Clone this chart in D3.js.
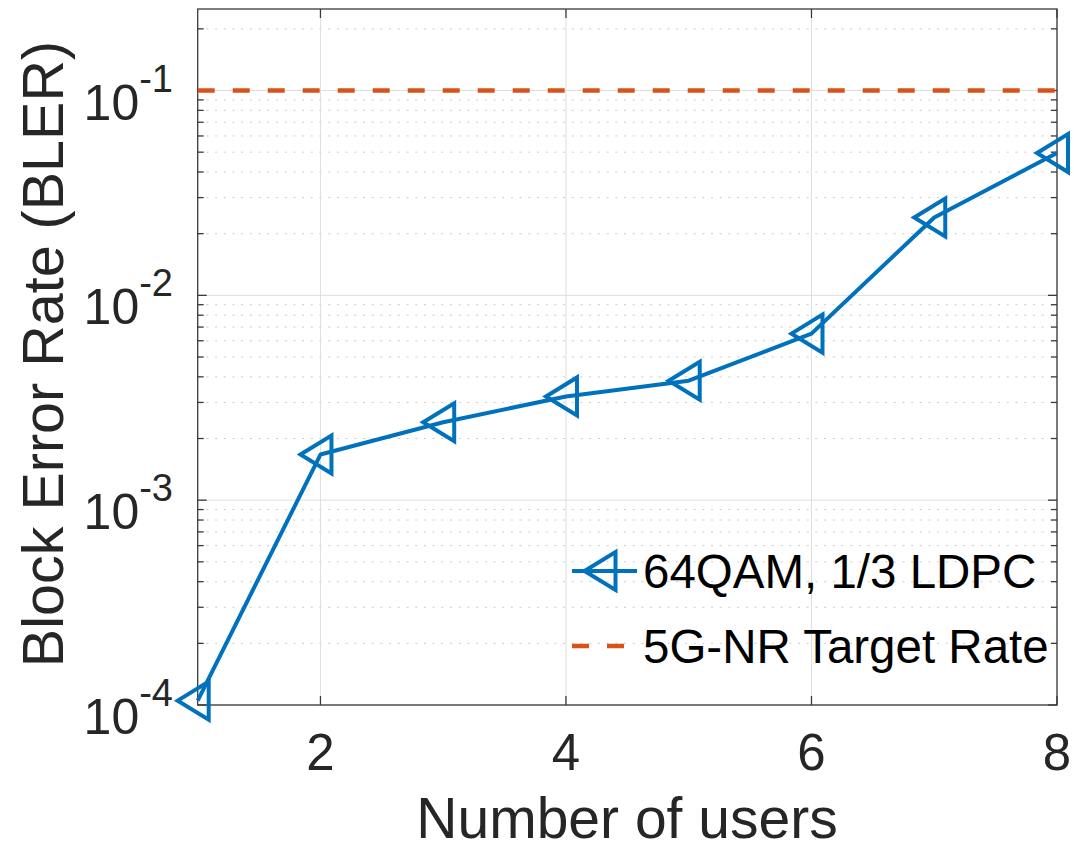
<!DOCTYPE html>
<html>
<head>
<meta charset="utf-8">
<script src="https://cdn.jsdelivr.net/npm/d3@7/dist/d3.min.js"></script>
<style>
  html, body { margin: 0; padding: 0; background: #fff; }
  svg { display: block; font-family: "Liberation Sans", Arial, Helvetica, sans-serif; }
</style>
</head>
<body>
<svg id="chart" width="1074" height="845"></svg>
<script>
// Block error rate versus number of users
const users = [1, 2, 3, 4, 5, 6, 7, 8];
const bler = [1.05e-4, 1.67e-3, 2.40e-3, 3.21e-3, 3.83e-3, 6.5e-3, 2.40e-2, 4.95e-2];
const targetRate = 0.1;
const xTicks = [2, 4, 6, 8];
const yTickExponents = [-4, -3, -2, -1];
const seriesNames = ["64QAM, 1/3 LDPC", "5G-NR Target Rate"];
const xTitle = "Number of users";
const yTitle = "Block Error Rate (BLER)";

const blue = "#0072BD", orange = "#D95319", ink = "#262626";
const plot = { left: 197.7, right: 1057, top: 9, bottom: 705 };

const svg = d3.select("#chart");
const x = d3.scaleLinear().domain([1, 8]).range([plot.left, plot.right]);
const y = d3.scaleLog().domain([1e-4, 0.25]).range([plot.bottom, plot.top]);

// minor log ticks (2..9 per decade) inside the domain
const minorTicks = [];
for (let e = -4; e <= -1; e++) {
  for (let m = 2; m <= 9; m++) {
    const v = m * Math.pow(10, e);
    if (v <= 0.25) minorTicks.push(v);
  }
}
const majorTicks = yTickExponents.map(e => Math.pow(10, e));

const grid = svg.append("g");
// minor y grid (dotted)
grid.selectAll("line.minor").data(minorTicks).join("line")
  .attr("x1", plot.left).attr("x2", plot.right)
  .attr("y1", d => y(d)).attr("y2", d => y(d))
  .attr("stroke", "#cbcbcb").attr("stroke-width", 1)
  .attr("stroke-dasharray", "2,6.7");
// major y grid
grid.selectAll("line.ymaj").data(majorTicks).join("line")
  .attr("x1", plot.left).attr("x2", plot.right)
  .attr("y1", d => y(d)).attr("y2", d => y(d))
  .attr("stroke", "#dedede").attr("stroke-width", 1);
// major x grid
grid.selectAll("line.xmaj").data(xTicks).join("line")
  .attr("x1", d => x(d)).attr("x2", d => x(d))
  .attr("y1", plot.top).attr("y2", plot.bottom)
  .attr("stroke", "#dedede").attr("stroke-width", 1);

// axes box and inward ticks
const axes = svg.append("g").attr("stroke", "#3a3a3a").attr("stroke-width", 1.3).attr("fill", "none");
axes.append("rect")
  .attr("x", plot.left).attr("y", plot.top)
  .attr("width", plot.right - plot.left).attr("height", plot.bottom - plot.top);
const majLen = 9, minLen = 6;
xTicks.forEach(t => {
  axes.append("line").attr("x1", x(t)).attr("x2", x(t)).attr("y1", plot.bottom).attr("y2", plot.bottom - majLen);
  axes.append("line").attr("x1", x(t)).attr("x2", x(t)).attr("y1", plot.top).attr("y2", plot.top + majLen);
});
majorTicks.forEach(t => {
  axes.append("line").attr("x1", plot.left).attr("x2", plot.left + majLen).attr("y1", y(t)).attr("y2", y(t));
  axes.append("line").attr("x1", plot.right).attr("x2", plot.right - majLen).attr("y1", y(t)).attr("y2", y(t));
});
minorTicks.forEach(t => {
  axes.append("line").attr("x1", plot.left).attr("x2", plot.left + minLen).attr("y1", y(t)).attr("y2", y(t));
  axes.append("line").attr("x1", plot.right).attr("x2", plot.right - minLen).attr("y1", y(t)).attr("y2", y(t));
});

// x tick labels
svg.append("g").selectAll("text").data(xTicks).join("text")
  .attr("x", d => x(d)).attr("y", 770)
  .attr("text-anchor", "middle").attr("font-size", 51).attr("fill", ink)
  .text(d => d);

// y tick labels as powers of ten
const yLab = svg.append("g").selectAll("text").data(yTickExponents).join("text")
  .attr("x", 173).attr("y", d => y(Math.pow(10, d)) + 29)
  .attr("text-anchor", "end").attr("fill", ink);
yLab.append("tspan").attr("font-size", 50).text("10");
yLab.append("tspan").attr("font-size", 38).attr("dy", -28).text(d => String(d));

// axis titles
svg.append("text")
  .attr("x", 627).attr("y", 838)
  .attr("text-anchor", "middle").attr("font-size", 57).attr("fill", ink)
  .text(xTitle);
svg.append("text")
  .attr("transform", "translate(63, 354) rotate(-90)")
  .attr("text-anchor", "middle").attr("font-size", 57.5).attr("fill", ink)
  .text(yTitle);

// target rate line
svg.append("line")
  .attr("x1", plot.left).attr("x2", plot.right)
  .attr("y1", y(targetRate)).attr("y2", y(targetRate))
  .attr("stroke", orange).attr("stroke-width", 4.5)
  .attr("stroke-dasharray", "17,18");

// BLER curve
const pts = users.map((u, i) => [u, bler[i]]);
svg.append("path")
  .datum(pts)
  .attr("d", d3.line().x(d => x(d[0])).y(d => y(d[1])))
  .attr("fill", "none").attr("stroke", blue).attr("stroke-width", 4)
  .attr("stroke-linejoin", "round");

const triPath = "M-20,0 L11,-19 L11,19 Z";
svg.append("g").selectAll("path").data(pts).join("path")
  .attr("transform", d => `translate(${x(d[0])},${y(d[1])})`)
  .attr("d", triPath)
  .attr("fill", "none").attr("stroke", blue).attr("stroke-width", 4);

// legend
const leg = svg.append("g");
const lx0 = 572, lx1 = 637, ly = [571, 646], tx = 643;
leg.append("line").attr("x1", lx0).attr("x2", lx1).attr("y1", ly[0]).attr("y2", ly[0])
  .attr("stroke", blue).attr("stroke-width", 4);
leg.append("path").attr("transform", `translate(${(lx0 + lx1) / 2},${ly[0]})`)
  .attr("d", triPath).attr("fill", "none").attr("stroke", blue).attr("stroke-width", 4);
leg.append("line").attr("x1", lx0).attr("x2", lx1).attr("y1", ly[1]).attr("y2", ly[1])
  .attr("stroke", orange).attr("stroke-width", 4.5).attr("stroke-dasharray", "17,18");
seriesNames.forEach((name, i) => {
  leg.append("text").attr("x", tx).attr("y", ly[i] + 17)
    .attr("font-size", 47.5).attr("fill", "#000").text(name);
});
</script>
</body>
</html>
